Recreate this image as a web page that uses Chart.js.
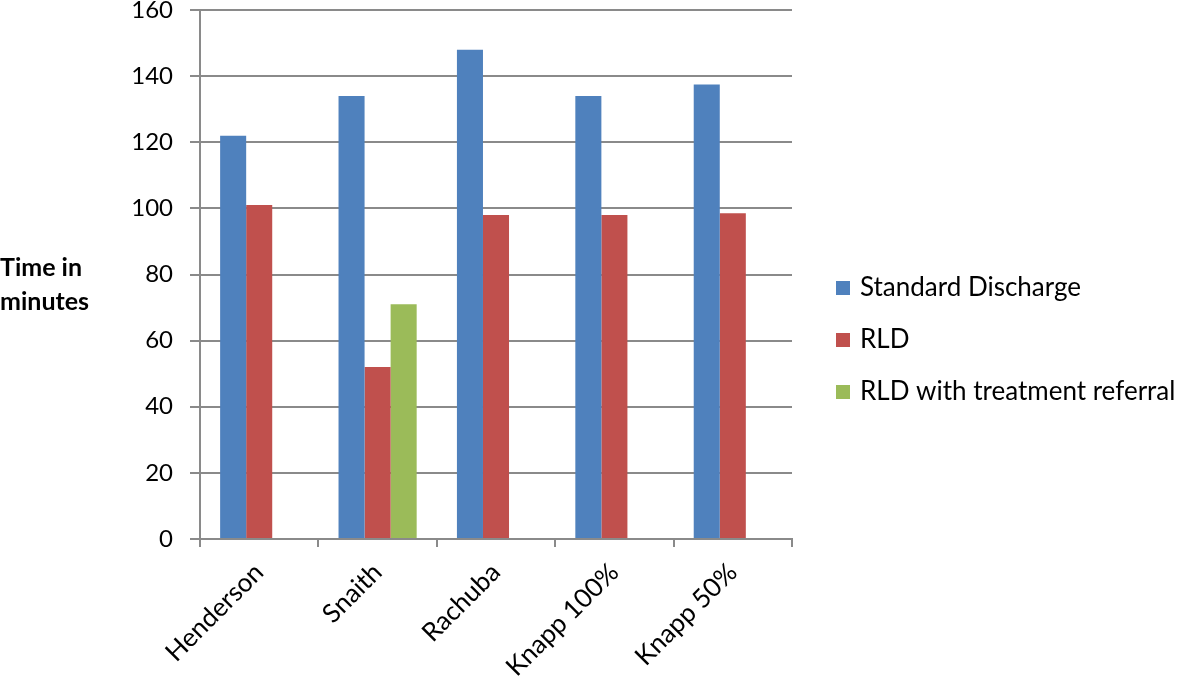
<!DOCTYPE html>
<html>
<head>
<meta charset="utf-8">
<script src="https://cdn.jsdelivr.net/npm/chart.js@4.4.0/dist/chart.umd.min.js"></script>
<style>
   html, body { margin: 0; padding: 0; background: #fff; }
   #wrap { width: 1181px; height: 676px; }
</style>
</head>
<body>
<div id="wrap"><canvas id="chart"></canvas></div>
<script>
const categories = ["Henderson", "Snaith", "Rachuba", "Knapp 100%", "Knapp 50%"];
const standardDischarge = [122, 134, 148, 134, 137.5];
const rld = [101, 52, 98, 98, 98.5];
const rldReferral = [null, 71, null, null, null];
const seriesNames = ["Standard Discharge", "RLD", "RLD with treatment referral"];
const seriesColors = ["#4F81BD", "#C0504D", "#9BBB59"];
const yTitle = ["Time in", "minutes"];

const FONT = "Lato, 'Liberation Sans', sans-serif";
const gridColor = "#8a8a8a";

// y axis title, horizontal on the left
const yTitlePlugin = {
   id: "yTitle",
   afterDraw(chart) {
      const ctx = chart.ctx;
      ctx.save();
      ctx.font = `bold 25px ${FONT}`;
      ctx.fillStyle = "#000";
      ctx.textAlign = "left";
      ctx.textBaseline = "middle";
      ctx.fillText(yTitle[0], 0, 268);
      ctx.fillText(yTitle[1], 0, 302);
      ctx.restore();
   }
}

// legend drawn at the right of the plot
const sideLegend = {
   id: "sideLegend",
   afterDraw(chart) {
      const ctx = chart.ctx;
      const x = chart.chartArea.right + 44;
      ctx.save();
      ctx.font = `26px ${FONT}`;
      ctx.textAlign = "left";
      ctx.textBaseline = "middle";
      chart.data.datasets.forEach((ds, i) => {
         const y = 288 + i * 52;
         ctx.fillStyle = ds.backgroundColor;
         ctx.fillRect(x, y - 7, 14, 14);
         ctx.fillStyle = "#000";
         ctx.fillText(ds.label, x + 24, y);
      });
      ctx.restore();
   }
}

const datasets = [standardDischarge, rld, rldReferral].map((d, i) => ({
   label: seriesNames[i],
   data: d,
   backgroundColor: seriesColors[i],
   borderWidth: 0
}));

new Chart(document.getElementById("chart"), {
   type: "bar",
   data: { labels: categories, datasets },
   options: {
      responsive: true,
      maintainAspectRatio: false,
      animation: false,
      categoryPercentage: 0.66,
      barPercentage: 1,
      layout: { padding: { left: 90, right: 389, top: 10, bottom: 0 } },
      plugins: {
         legend: { display: false },
         tooltip: { enabled: false }
      },
      scales: {
         x: {
            grid: {
               offset: true,
               drawOnChartArea: false,
               color: gridColor,
               lineWidth: 2,
               tickLength: 8
            },
            border: { color: gridColor, width: 2 },
            ticks: {
               color: "#000",
               font: { family: FONT, size: 26 },
               maxRotation: 45,
               minRotation: 45,
               padding: 10
            },
            afterFit(scale) { scale.height = 137; }
         },
         y: {
            min: 0,
            max: 160,
            grid: { color: gridColor, lineWidth: 2, tickLength: 10 },
            border: { color: gridColor, width: 2 },
            ticks: {
               stepSize: 20,
               color: "#000",
               font: { family: FONT, size: 24 },
               padding: 17
            },
            afterFit(scale) {
               scale.width = 110;
               scale.paddingTop = 0;
               scale.paddingBottom = 0;
            }
         }
      }
   },
   plugins: [yTitlePlugin, sideLegend]
});
</script>
</body>
</html>
